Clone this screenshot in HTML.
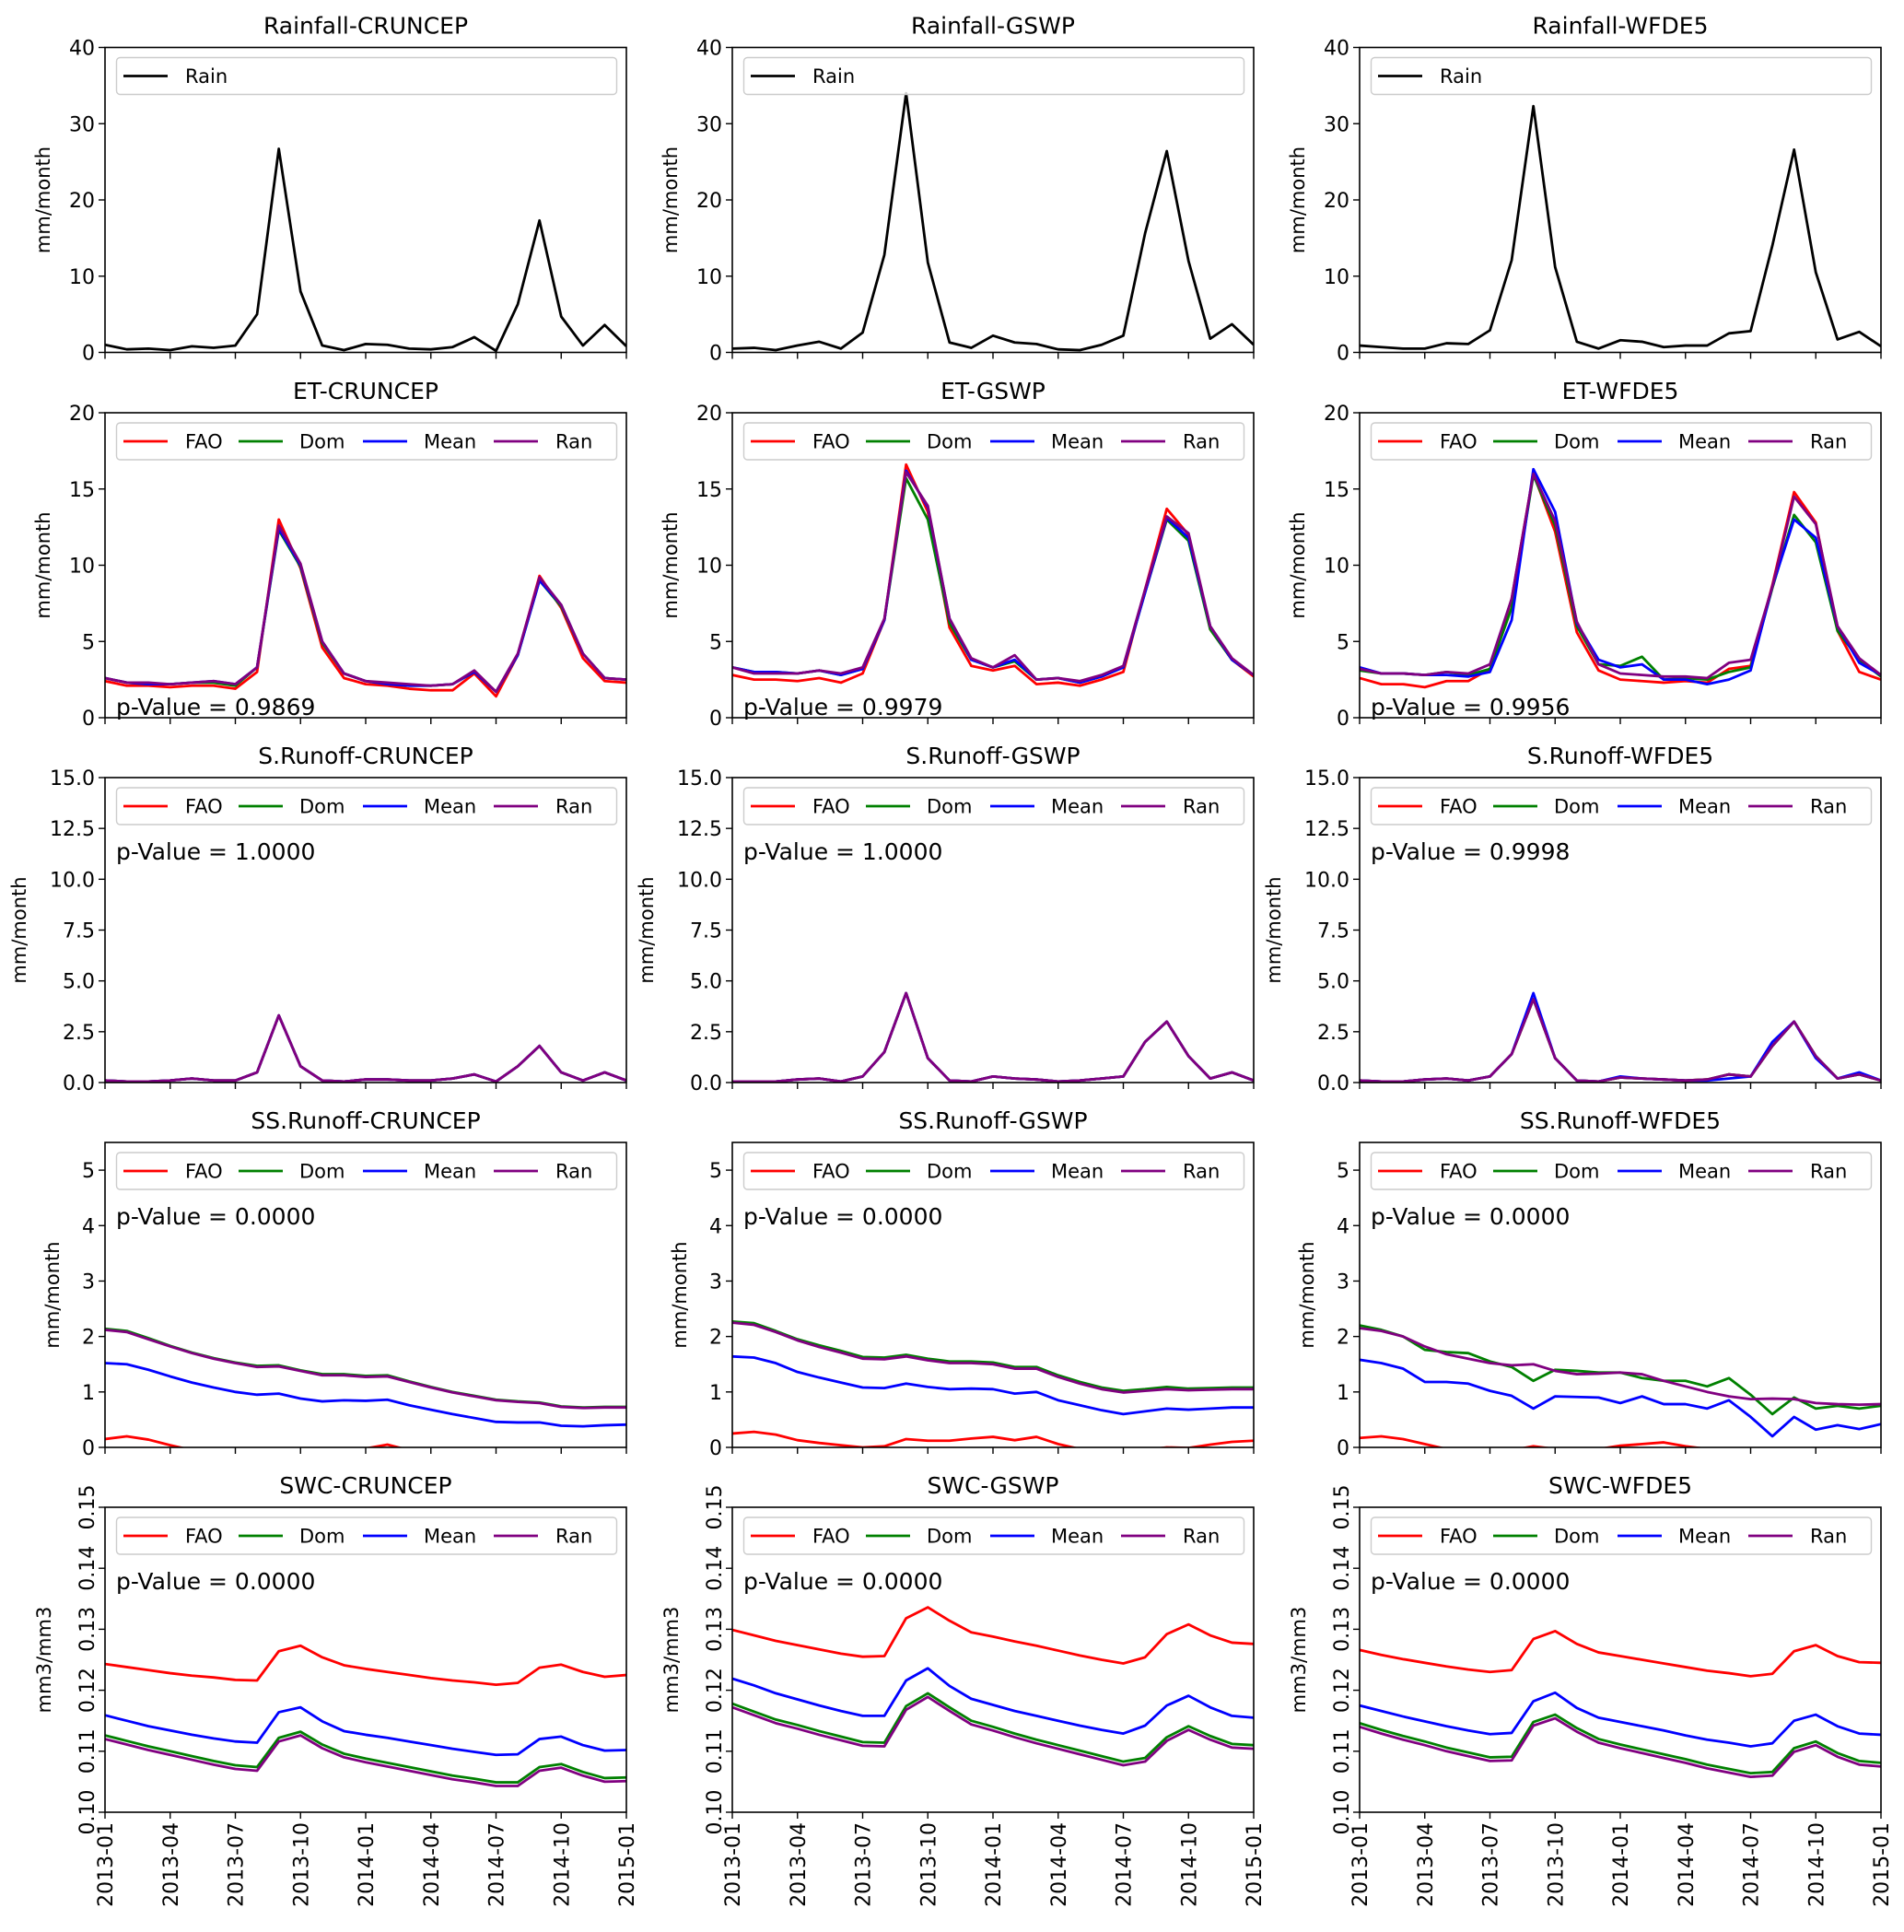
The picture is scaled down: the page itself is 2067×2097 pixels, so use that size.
<!DOCTYPE html>
<html><head><meta charset="utf-8"><style>
html,body{margin:0;padding:0;background:#fff;}
svg{display:block;font-family:"DejaVu Sans","Liberation Sans",sans-serif;}
</style></head><body>
<svg id="fig" width="2067" height="2097" viewBox="0 0 2067 2097" xmlns="http://www.w3.org/2000/svg"></svg>
<script>
const months = ['2013-01','2013-02','2013-03','2013-04','2013-05','2013-06','2013-07','2013-08','2013-09','2013-10','2013-11','2013-12','2014-01','2014-02','2014-03','2014-04','2014-05','2014-06','2014-07','2014-08','2014-09','2014-10','2014-11','2014-12','2015-01'];
const xTickLabels = ['2013-01','2013-04','2013-07','2013-10','2014-01','2014-04','2014-07','2014-10','2015-01'];
const datasets = ['CRUNCEP','GSWP','WFDE5'];
const seriesNames = ['FAO','Dom','Mean','Ran'];
const pValuesET = ['0.9869','0.9979','0.9956'];
const pValuesSR = ['1.0000','1.0000','0.9998'];
const pValuesSS = ['0.0000','0.0000','0.0000'];
const pValuesSWC = ['0.0000','0.0000','0.0000'];

const rainCRU = [1.0,0.4,0.5,0.3,0.8,0.6,0.9,5,26.7,8,0.9,0.3,1.1,1.0,0.5,0.4,0.7,2.0,0.2,6.3,17.3,4.7,0.9,3.6,0.8];
const rainGSWP = [0.5,0.6,0.3,0.9,1.4,0.5,2.6,12.8,34,11.8,1.3,0.6,2.2,1.3,1.1,0.4,0.3,1.0,2.2,15.6,26.4,12,1.8,3.7,1.0];
const rainWFDE5 = [0.9,0.7,0.5,0.5,1.2,1.1,2.9,12.1,32.3,11.2,1.4,0.5,1.6,1.4,0.7,0.9,0.9,2.5,2.8,14.0,26.6,10.5,1.7,2.7,0.8];

const etCRU_FAO = [2.4,2.1,2.1,2.0,2.1,2.1,1.9,3.0,13.0,9.8,4.6,2.6,2.2,2.1,1.9,1.8,1.8,2.9,1.4,4.1,9.3,7.2,3.9,2.4,2.3];
const etCRU_Dom = [2.6,2.3,2.2,2.2,2.3,2.3,2.1,3.3,12.3,9.9,4.9,2.9,2.4,2.2,2.1,2.1,2.2,3.0,1.7,4.1,9.0,7.3,4.2,2.6,2.5];
const etCRU_Mean = [2.6,2.3,2.2,2.2,2.3,2.4,2.2,3.3,12.4,10.0,5.0,2.9,2.4,2.2,2.1,2.1,2.2,3.0,1.7,4.1,9.0,7.4,4.2,2.6,2.5];
const etCRU_Ran = [2.6,2.3,2.3,2.2,2.3,2.4,2.2,3.3,12.6,10.1,5.0,2.9,2.4,2.3,2.2,2.1,2.2,3.1,1.7,4.2,9.2,7.4,4.2,2.6,2.5];
const etGSWP_FAO = [2.8,2.5,2.5,2.4,2.6,2.3,2.9,6.4,16.6,13.5,5.9,3.4,3.1,3.4,2.2,2.3,2.1,2.5,3.0,8.4,13.7,12.0,5.8,3.8,2.7];
const etGSWP_Dom = [3.3,3.0,3.0,2.9,3.1,2.8,3.2,6.4,15.7,13.0,6.2,3.8,3.3,3.7,2.5,2.6,2.3,2.7,3.3,8.2,13.0,11.6,5.8,3.8,2.8];
const etGSWP_Mean = [3.3,3.0,3.0,2.9,3.1,2.8,3.2,6.4,16.2,13.8,6.5,3.8,3.3,3.8,2.5,2.6,2.3,2.7,3.3,8.2,13.1,11.8,6.0,3.8,2.8];
const etGSWP_Ran = [3.3,2.9,2.9,2.9,3.1,2.9,3.3,6.5,16.1,13.9,6.5,3.9,3.3,4.1,2.5,2.6,2.4,2.8,3.4,8.4,13.2,12.1,6.0,3.9,2.8];
const etWF_FAO = [2.6,2.2,2.2,2.0,2.4,2.4,3.2,7.8,16.0,12.2,5.6,3.1,2.5,2.4,2.3,2.4,2.3,3.2,3.4,8.7,14.8,12.8,5.7,3.0,2.5];
const etWF_Dom = [3.1,2.9,2.9,2.8,3.0,2.8,3.2,7.2,15.9,12.6,6.0,3.5,3.4,4.0,2.5,2.6,2.5,3.0,3.3,8.5,13.3,11.5,5.7,3.8,2.7];
const etWF_Mean = [3.3,2.9,2.9,2.8,2.8,2.7,3.0,6.4,16.3,13.5,6.2,3.8,3.3,3.5,2.5,2.5,2.2,2.5,3.1,8.6,13.0,11.8,6.0,3.6,2.8];
const etWF_Ran = [3.2,2.9,2.9,2.8,3.0,2.9,3.5,7.8,16.0,12.9,6.3,3.5,2.9,2.8,2.7,2.7,2.6,3.6,3.8,8.6,14.5,12.7,6.0,3.9,2.8];

const srCRU_FAO = [0.1,0.05,0.05,0.1,0.2,0.1,0.1,0.5,3.3,0.8,0.1,0.05,0.15,0.15,0.1,0.1,0.2,0.4,0.05,0.8,1.8,0.5,0.1,0.5,0.1];
const srCRU_Dom = [0.1,0.05,0.05,0.1,0.2,0.1,0.1,0.5,3.3,0.8,0.1,0.05,0.15,0.15,0.1,0.1,0.2,0.4,0.05,0.8,1.8,0.5,0.1,0.5,0.1];
const srCRU_Mean = [0.1,0.05,0.05,0.1,0.2,0.1,0.1,0.5,3.3,0.8,0.1,0.05,0.15,0.15,0.1,0.1,0.2,0.4,0.05,0.8,1.8,0.5,0.1,0.5,0.1];
const srCRU_Ran = [0.1,0.05,0.05,0.1,0.2,0.1,0.1,0.5,3.3,0.8,0.1,0.05,0.15,0.15,0.1,0.1,0.2,0.4,0.05,0.8,1.8,0.5,0.1,0.5,0.1];
const srGSWP_FAO = [0.05,0.05,0.05,0.15,0.2,0.05,0.3,1.5,4.4,1.2,0.1,0.05,0.3,0.2,0.15,0.05,0.1,0.2,0.3,2.0,3.0,1.3,0.2,0.5,0.1];
const srGSWP_Dom = [0.05,0.05,0.05,0.15,0.2,0.05,0.3,1.5,4.4,1.2,0.1,0.05,0.3,0.2,0.15,0.05,0.1,0.2,0.3,2.0,3.0,1.3,0.2,0.5,0.1];
const srGSWP_Mean = [0.05,0.05,0.05,0.15,0.2,0.05,0.3,1.5,4.4,1.2,0.1,0.05,0.3,0.2,0.15,0.05,0.1,0.2,0.3,2.0,3.0,1.3,0.2,0.5,0.1];
const srGSWP_Ran = [0.05,0.05,0.05,0.15,0.2,0.05,0.3,1.5,4.4,1.2,0.1,0.05,0.3,0.2,0.15,0.05,0.1,0.2,0.3,2.0,3.0,1.3,0.2,0.5,0.1];
const srWF_FAO = [0.1,0.05,0.05,0.15,0.2,0.1,0.3,1.4,4.1,1.2,0.1,0.05,0.25,0.2,0.15,0.1,0.15,0.4,0.3,1.8,3.0,1.3,0.2,0.4,0.1];
const srWF_Dom = [0.1,0.05,0.05,0.15,0.2,0.1,0.3,1.4,4.1,1.2,0.1,0.05,0.25,0.2,0.15,0.1,0.15,0.4,0.3,1.8,3.0,1.3,0.2,0.4,0.1];
const srWF_Mean = [0.1,0.05,0.05,0.15,0.2,0.1,0.3,1.4,4.4,1.2,0.1,0.05,0.3,0.2,0.15,0.1,0.1,0.2,0.3,2.0,3.0,1.2,0.2,0.5,0.1];
const srWF_Ran = [0.1,0.05,0.05,0.15,0.2,0.1,0.3,1.4,4.1,1.2,0.1,0.05,0.25,0.2,0.15,0.1,0.15,0.4,0.3,1.8,3.0,1.3,0.2,0.4,0.1];

const ssCRU_FAO = [0.15,0.2,0.14,0.04,-0.05,-0.1,-0.1,-0.1,-0.1,-0.1,-0.1,-0.1,-0.02,0.05,-0.05,-0.1,-0.1,-0.1,-0.1,-0.1,-0.1,-0.1,-0.1,-0.1,-0.1];
const ssCRU_Dom = [2.14,2.10,1.97,1.83,1.71,1.61,1.53,1.47,1.48,1.39,1.32,1.32,1.29,1.30,1.19,1.09,1.00,0.93,0.86,0.83,0.81,0.74,0.72,0.73,0.73];
const ssCRU_Mean = [1.52,1.50,1.40,1.28,1.17,1.08,1.00,0.95,0.97,0.88,0.83,0.85,0.84,0.86,0.76,0.68,0.60,0.53,0.46,0.45,0.45,0.39,0.38,0.40,0.41];
const ssCRU_Ran = [2.12,2.08,1.95,1.82,1.70,1.60,1.52,1.45,1.46,1.38,1.30,1.30,1.27,1.28,1.18,1.08,0.99,0.92,0.85,0.82,0.80,0.73,0.71,0.72,0.72];
const ssGSWP_FAO = [0.25,0.28,0.23,0.13,0.08,0.04,0,0.02,0.15,0.12,0.12,0.16,0.19,0.13,0.19,0.06,-0.03,-0.08,-0.08,-0.05,0,-0.01,0.05,0.1,0.12];
const ssGSWP_Dom = [2.27,2.24,2.10,1.95,1.84,1.74,1.63,1.62,1.67,1.60,1.55,1.55,1.53,1.45,1.45,1.30,1.18,1.08,1.02,1.05,1.09,1.06,1.07,1.08,1.08];
const ssGSWP_Mean = [1.64,1.62,1.52,1.36,1.26,1.17,1.08,1.07,1.15,1.09,1.05,1.06,1.05,0.97,1.00,0.85,0.76,0.67,0.60,0.65,0.70,0.68,0.70,0.72,0.72];
const ssGSWP_Ran = [2.25,2.21,2.08,1.93,1.81,1.71,1.60,1.59,1.64,1.57,1.52,1.52,1.50,1.42,1.42,1.27,1.15,1.05,0.99,1.02,1.05,1.03,1.04,1.05,1.05];
const ssWF_FAO = [0.17,0.2,0.15,0.06,-0.03,-0.05,-0.05,-0.05,0.02,-0.03,-0.05,-0.03,0.03,0.06,0.09,0.02,-0.03,-0.05,-0.05,-0.05,-0.05,-0.05,-0.05,-0.05,-0.05];
const ssWF_Dom = [2.20,2.12,2.00,1.76,1.72,1.70,1.55,1.45,1.20,1.40,1.38,1.35,1.35,1.25,1.20,1.20,1.10,1.25,0.95,0.60,0.90,0.70,0.75,0.70,0.75];
const ssWF_Mean = [1.58,1.52,1.42,1.18,1.18,1.15,1.02,0.93,0.70,0.92,0.91,0.90,0.80,0.92,0.78,0.78,0.70,0.85,0.55,0.20,0.55,0.32,0.40,0.33,0.42];
const ssWF_Ran = [2.15,2.10,2.00,1.82,1.68,1.60,1.52,1.48,1.50,1.38,1.32,1.33,1.35,1.32,1.20,1.10,1.00,0.92,0.87,0.88,0.87,0.80,0.78,0.77,0.78];

const swcCRU_FAO = [0.1243,0.1238,0.1233,0.1228,0.1224,0.1221,0.1217,0.1216,0.1264,0.1273,0.1254,0.1241,0.1235,0.1230,0.1225,0.1220,0.1216,0.1213,0.1209,0.1212,0.1237,0.1242,0.1230,0.1222,0.1225];
const swcCRU_Dom = [0.1126,0.1117,0.1108,0.1100,0.1092,0.1084,0.1077,0.1074,0.1122,0.1132,0.1111,0.1096,0.1088,0.1081,0.1074,0.1067,0.1060,0.1055,0.1049,0.1049,0.1074,0.1079,0.1066,0.1056,0.1057];
const swcCRU_Mean = [0.1159,0.1150,0.1141,0.1134,0.1127,0.1121,0.1116,0.1114,0.1164,0.1172,0.1149,0.1133,0.1127,0.1122,0.1116,0.1110,0.1104,0.1099,0.1094,0.1095,0.1120,0.1124,0.1110,0.1101,0.1102];
const swcCRU_Ran = [0.1120,0.1111,0.1102,0.1094,0.1086,0.1078,0.1071,0.1068,0.1116,0.1126,0.1105,0.1090,0.1082,0.1075,0.1068,0.1061,0.1054,0.1049,0.1043,0.1043,0.1068,0.1073,0.1060,0.1050,0.1051];
const swcGSWP_FAO = [0.1299,0.1290,0.1281,0.1274,0.1267,0.1260,0.1255,0.1256,0.1318,0.1336,0.1314,0.1295,0.1288,0.1280,0.1273,0.1265,0.1257,0.1250,0.1244,0.1254,0.1292,0.1308,0.1290,0.1278,0.1276];
const swcGSWP_Dom = [0.1178,0.1165,0.1152,0.1143,0.1133,0.1124,0.1115,0.1114,0.1174,0.1195,0.1172,0.1150,0.1140,0.1129,0.1119,0.1110,0.1101,0.1092,0.1083,0.1089,0.1123,0.1141,0.1125,0.1112,0.1110];
const swcGSWP_Mean = [0.1219,0.1208,0.1195,0.1185,0.1175,0.1166,0.1158,0.1158,0.1216,0.1236,0.1207,0.1186,0.1176,0.1166,0.1158,0.1150,0.1142,0.1135,0.1129,0.1142,0.1175,0.1191,0.1172,0.1158,0.1155];
const swcGSWP_Ran = [0.1172,0.1159,0.1146,0.1137,0.1127,0.1118,0.1109,0.1108,0.1168,0.1189,0.1166,0.1144,0.1134,0.1123,0.1113,0.1104,0.1095,0.1086,0.1077,0.1083,0.1117,0.1135,0.1119,0.1106,0.1104];
const swcWF_FAO = [0.1266,0.1258,0.1251,0.1245,0.1239,0.1234,0.1230,0.1233,0.1284,0.1297,0.1276,0.1262,0.1256,0.1250,0.1244,0.1238,0.1232,0.1228,0.1223,0.1227,0.1264,0.1274,0.1256,0.1246,0.1245];
const swcWF_Dom = [0.1146,0.1135,0.1125,0.1116,0.1106,0.1098,0.1090,0.1091,0.1148,0.1160,0.1138,0.1120,0.1111,0.1103,0.1095,0.1087,0.1078,0.1071,0.1064,0.1066,0.1105,0.1116,0.1097,0.1084,0.1081];
const swcWF_Mean = [0.1175,0.1166,0.1157,0.1149,0.1141,0.1134,0.1128,0.1130,0.1182,0.1196,0.1171,0.1155,0.1148,0.1141,0.1134,0.1126,0.1119,0.1114,0.1108,0.1113,0.1150,0.1160,0.1141,0.1129,0.1127];
const swcWF_Ran = [0.1140,0.1129,0.1119,0.1110,0.1100,0.1092,0.1084,0.1085,0.1142,0.1154,0.1132,0.1114,0.1105,0.1097,0.1089,0.1081,0.1072,0.1065,0.1058,0.1060,0.1099,0.1110,0.1091,0.1078,0.1075];

const rainTicks = [0,10,20,30,40];
const etTicks = [0,5,10,15,20];
const srTicks = [0,2.5,5,7.5,10,12.5,15];
const ssTicks = [0,1,2,3,4,5];
const swcTicks = [0.10,0.11,0.12,0.13,0.14,0.15];

const NS='http://www.w3.org/2000/svg';
const svg=document.getElementById('fig');
function mk(tag,attrs,parent){const e=document.createElementNS(NS,tag);for(const k in attrs)e.setAttribute(k,attrs[k]);(parent||svg).appendChild(e);return e;}
const colors={FAO:'#ff0000',Dom:'#008000',Mean:'#0000ff',Ran:'#800080',Rain:'#000000'};
const colX=[114,795,1476], rowY=[51.5,448,844,1240,1636], W=566, H=331;

const rows=[
 {key:'rain',title:'Rainfall',ymin:0,ymax:40,ticks:rainTicks,fmt:v=>String(v),ylab:'mm/month',ylx:-60,p:null,series:[{Rain:rainCRU},{Rain:rainGSWP},{Rain:rainWFDE5}]},
 {key:'et',title:'ET',ymin:0,ymax:20,ticks:etTicks,fmt:v=>String(v),ylab:'mm/month',ylx:-60,p:pValuesET,pBottom:true,series:[
   {FAO:etCRU_FAO,Dom:etCRU_Dom,Mean:etCRU_Mean,Ran:etCRU_Ran},{FAO:etGSWP_FAO,Dom:etGSWP_Dom,Mean:etGSWP_Mean,Ran:etGSWP_Ran},{FAO:etWF_FAO,Dom:etWF_Dom,Mean:etWF_Mean,Ran:etWF_Ran}]},
 {key:'srunoff',title:'S.Runoff',ymin:0,ymax:15,ticks:srTicks,fmt:v=>v.toFixed(1),ylab:'mm/month',ylx:-86,p:pValuesSR,series:[
   {FAO:srCRU_FAO,Dom:srCRU_Dom,Mean:srCRU_Mean,Ran:srCRU_Ran},{FAO:srGSWP_FAO,Dom:srGSWP_Dom,Mean:srGSWP_Mean,Ran:srGSWP_Ran},{FAO:srWF_FAO,Dom:srWF_Dom,Mean:srWF_Mean,Ran:srWF_Ran}]},
 {key:'ssrunoff',title:'SS.Runoff',ymin:0,ymax:5.5,ticks:ssTicks,fmt:v=>String(v),ylab:'mm/month',ylx:-50,p:pValuesSS,series:[
   {FAO:ssCRU_FAO,Dom:ssCRU_Dom,Mean:ssCRU_Mean,Ran:ssCRU_Ran},{FAO:ssGSWP_FAO,Dom:ssGSWP_Dom,Mean:ssGSWP_Mean,Ran:ssGSWP_Ran},{FAO:ssWF_FAO,Dom:ssWF_Dom,Mean:ssWF_Mean,Ran:ssWF_Ran}]},
 {key:'swc',title:'SWC',ymin:0.10,ymax:0.15,ticks:swcTicks,fmt:v=>v.toFixed(2),ylab:'mm3/mm3',ylx:-59,p:pValuesSWC,rotY:true,series:[
   {FAO:swcCRU_FAO,Dom:swcCRU_Dom,Mean:swcCRU_Mean,Ran:swcCRU_Ran},{FAO:swcGSWP_FAO,Dom:swcGSWP_Dom,Mean:swcGSWP_Mean,Ran:swcGSWP_Ran},{FAO:swcWF_FAO,Dom:swcWF_Dom,Mean:swcWF_Mean,Ran:swcWF_Ran}]}
];

rows.forEach((row,ri)=>{
 datasets.forEach((ds,ci)=>{
  const L=colX[ci],T=rowY[ri];
  const xs=i=>L+i*W/(months.length-1);
  const ys=v=>T+H-(v-row.ymin)/(row.ymax-row.ymin)*H;
  const g=mk('g',{});
  
  
  const cid='clip'+ri+ci;
  const cp=mk('clipPath',{id:cid},g);mk('rect',{x:L,y:T,width:W,height:H},cp);
  const tt=mk('text',{x:L+W/2,y:T-15,'text-anchor':'middle','font-size':25},g);
  tt.textContent=row.title+'-'+ds;
  
  
  const names=Object.keys(row.series[ci]);
  names.forEach(n=>{
   const vals=row.series[ci][n];
   const pts=vals.map((v,i)=>xs(i).toFixed(2)+','+ys(v).toFixed(2)).join(' ');
   const pl=mk('polyline',{points:pts,fill:'none',stroke:colors[n],'stroke-width':2.8,'stroke-linejoin':'round','clip-path':'url(#'+cid+')'},g);
   
   
  });
  const fr=mk('rect',{x:L,y:T,width:W,height:H,fill:'none',stroke:'#000','stroke-width':1.6},g);
  
  
  row.ticks.forEach(v=>{
   const y=ys(v);
   mk('line',{x1:L-7,x2:L,y1:y,y2:y,stroke:'#000','stroke-width':1.4},g);
   let t;
   if(row.rotY){t=mk('text',{x:L-12,y:y,'font-size':22,'text-anchor':'middle',transform:'rotate(-90 '+(L-12)+' '+y+')'},g);}
   else{t=mk('text',{x:L-11,y:y+8,'font-size':22,'text-anchor':'end'},g);}
   t.textContent=row.fmt(v);
   
   
  });
  xTickLabels.forEach(lab=>{
   const i=months.indexOf(lab);const x=xs(i);
   mk('line',{x1:x,x2:x,y1:T+H,y2:T+H+7,stroke:'#000','stroke-width':1.4},g);
   if(ri===rows.length-1){
    const t=mk('text',{x:x+8,y:T+H+11,'font-size':22,'text-anchor':'end',transform:'rotate(-90 '+(x+8)+' '+(T+H+11)+')'},g);
    t.textContent=lab;
    
    
   }
  });
  const yl=mk('text',{x:L+row.ylx,y:T+H/2,'font-size':21,'text-anchor':'middle',transform:'rotate(-90 '+(L+row.ylx)+' '+(T+H/2)+')'},g);
  yl.textContent=row.ylab;
  
  
  const lg=mk('g',{},g);
  
  
  mk('rect',{x:L+12.5,y:T+11,width:543,height:40,rx:4,fill:'#fff','fill-opacity':0.8,stroke:'#cccccc','stroke-width':1.4},lg);
  const lineOff=[20,145,280,422], txtOff=[87,211,346,489];
  names.forEach((n,k)=>{
   const ly=T+31;
   mk('line',{x1:L+lineOff[k],x2:L+lineOff[k]+48,y1:ly,y2:ly,stroke:colors[n],'stroke-width':2.8},lg);
   const t=mk('text',{x:L+txtOff[k],y:ly+7.5,'font-size':21},lg);
   t.textContent=n;
   
   
  });
  if(row.p){
   const py=row.pBottom?T+H-3:T+89;
   const t=mk('text',{x:L+12,y:py,'font-size':25},g);
   t.textContent='p-Value = '+row.p[ci];
   
   
  }
 });
});
</script>
</body></html>
